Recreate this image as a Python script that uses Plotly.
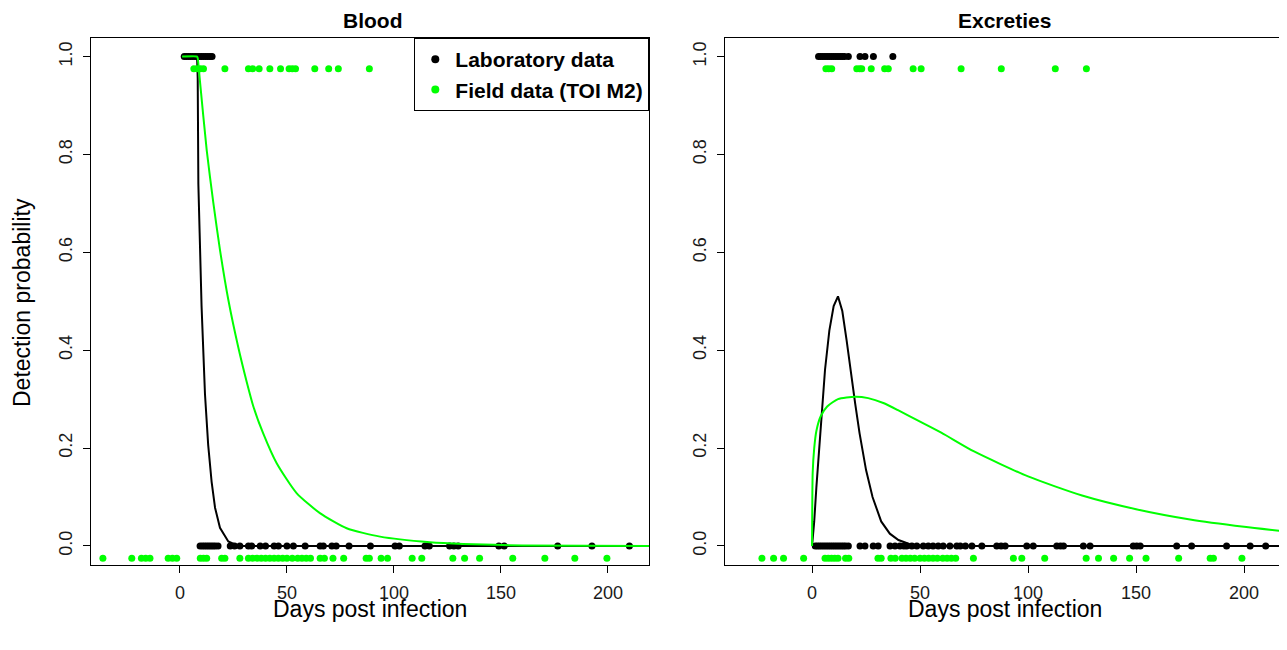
import plotly.graph_objects as go

# ---------------- DATA ----------------
# Blood panel: laboratory observations (days post infection)
blood_lab_pos_days = [2, 3, 4, 5, 6, 7, 8, 9, 10, 11, 12, 13, 14, 15]
blood_lab_neg_days = [9.4, 10.5, 11.5, 12.5, 13.5, 14.5, 15.5, 16.5, 17.8, 23.5, 25.5, 28, 32, 33.5,
                      37.5, 40, 44, 46, 50, 53, 58.5, 65.5, 67, 71, 73, 79, 89, 100.5, 102.5,
                      114.5, 116.5, 126, 128, 130, 149, 151.5, 176.5, 192.5, 210]
# Blood panel: field observations (TOI M2)
blood_field_pos_days = [6.5, 8, 9.5, 11, 21, 32, 34, 37, 42, 47, 51, 52.5, 54, 63, 69.5, 74, 88.5]
blood_field_neg_days = [-36, -22.5, -18, -16, -14, -5.5, -3.5, -1.5, 9.5, 11, 12.5, 19.5, 21, 28, 32,
                        34, 36, 38, 40, 42, 44, 46, 48, 50, 52.5, 55, 57, 59, 61, 65.5, 67.5, 71.5,
                        76.5, 87, 88.5, 94, 97, 108.5, 113, 127.5, 133, 140, 155.5, 170.5, 184.5, 199.5]

# Excreties panel: laboratory observations
excr_lab_pos_days = [3, 4, 5, 6, 7, 8, 9, 10, 11, 12, 13, 14, 15, 16.8, 22.2, 24.5, 28.4, 37.4]
excr_lab_neg_days = [1.5, 2.5, 3.5, 4.5, 5.5, 6.5, 7.5, 8.5, 9.5, 10.5, 11.5, 12.5, 13.5, 14.5, 15.5,
                     16.8, 22.2, 24.5, 28.3, 30.6, 36.1, 38.4, 40.7, 42.5, 43.8, 46.2, 48.5, 51.5,
                     53.8, 56, 58.4, 60.7, 63.8, 67, 68.6, 71, 74, 78.6, 85.5, 87.5, 89.4, 99.4,
                     102.4, 113.3, 115, 116.4, 125.6, 128.7, 148.7, 150.3, 151.9, 168.8, 175.7,
                     191.9, 202.8, 210]
# Excreties panel: field observations
excr_field_pos_days = [6.4, 7.7, 9.1, 20.7, 22, 23, 27.4, 33.6, 35.3, 46.8, 50.5, 69, 87.6, 112.6, 127]
excr_field_neg_days = [-23.2, -17.8, -13.2, -3.9, 6, 7.5, 9, 10.5, 12, 15.5, 17, 30.5, 32, 36.5, 38.5,
                       41.6, 43.5, 45.5, 47.5, 50, 52, 54, 56, 58, 60.5, 62.5, 64.5, 66.5, 74.7,
                       93.2, 97.1, 107.7, 126.9, 132.6, 139.6, 147, 154.6, 169.7, 184.3, 185.8, 199]

# Fitted detection-probability curves
blood_lab_curve_days = [1, 8.0, 8.3, 8.6, 9.2, 9.8, 10.1, 11.7, 13.2, 14.8, 16.4, 18.7, 22.6, 27.2, 220]
blood_lab_curve_p = [1.0, 1.0, 0.956, 0.74, 0.64, 0.55, 0.49, 0.31, 0.206, 0.131, 0.078, 0.037, 0.009, 0.0, 0.0]
blood_field_curve_days = [1, 8.0, 8.3, 9.3, 12.5, 15.6, 18.7, 22.6, 27.2, 31.2, 34.3, 38.9, 45.2, 54.5,
                          65.4, 77.9, 93.5, 116.8, 132.4, 160, 220]
blood_field_curve_p = [1.0, 1.0, 0.997, 0.952, 0.809, 0.701, 0.605, 0.503, 0.407, 0.335, 0.285, 0.230,
                       0.169, 0.108, 0.067, 0.036, 0.019, 0.0076, 0.004, 0.001, 0.0]
excr_lab_curve_days = [0, 1, 2, 4, 6, 8, 10, 12, 14, 16, 18, 20, 22, 25, 28, 32, 36, 40, 45, 50, 220]
excr_lab_curve_p = [0.0, 0.05, 0.12, 0.25, 0.36, 0.44, 0.49, 0.51, 0.48, 0.42, 0.35, 0.29, 0.23, 0.155,
                    0.10, 0.05, 0.025, 0.012, 0.004, 0.0, 0.0]
excr_field_curve_days = [0, 0.3, 1, 2, 4, 7, 12, 20, 26, 33, 40, 50, 60, 75, 100, 125, 150, 175, 200, 220]
excr_field_curve_p = [0.0, 0.15, 0.2, 0.235, 0.265, 0.285, 0.3, 0.305, 0.302, 0.292, 0.277, 0.254, 0.231,
                      0.193, 0.142, 0.103, 0.075, 0.054, 0.039, 0.029]

panel_titles = ["Blood", "Excreties"]
x_title = "Days post infection"
y_title = "Detection probability"
legend_names = ["Laboratory data", "Field data (TOI M2)"]
x_tickvals = [0, 50, 100, 150, 200]
y_tickvals = [0.0, 0.2, 0.4, 0.6, 0.8, 1.0]
y_ticktext = ["0.0", "0.2", "0.4", "0.6", "0.8", "1.0"]

# ---------------- STYLE ----------------
OFF = 8                      # page body margin of the html page
W, H = 1287 - OFF, 650 - OFF
LAB_COL = "#000000"
FIELD_COL = "#00FF00"
FIELD_OFFSET = -0.025  # field points drawn slightly below the lab points
FONT = "Liberation Sans, Arial, sans-serif"
MS = 7
LW = 2

fig = go.Figure()

panels = [
    dict(xa="x", ya="y",
         lab_pos=blood_lab_pos_days, lab_neg=blood_lab_neg_days,
         f_pos=blood_field_pos_days, f_neg=blood_field_neg_days,
         lc=(blood_lab_curve_days, blood_lab_curve_p),
         fc=(blood_field_curve_days, blood_field_curve_p)),
    dict(xa="x2", ya="y2",
         lab_pos=excr_lab_pos_days, lab_neg=excr_lab_neg_days,
         f_pos=excr_field_pos_days, f_neg=excr_field_neg_days,
         lc=(excr_lab_curve_days, excr_lab_curve_p),
         fc=(excr_field_curve_days, excr_field_curve_p)),
]

for p in panels:
    lab_x = p["lab_pos"] + p["lab_neg"]
    lab_y = [1] * len(p["lab_pos"]) + [0] * len(p["lab_neg"])
    f_x = p["f_pos"] + p["f_neg"]
    f_y = [1 + FIELD_OFFSET] * len(p["f_pos"]) + [0 + FIELD_OFFSET] * len(p["f_neg"])
    fig.add_trace(go.Scatter(x=lab_x, y=lab_y, mode="markers", xaxis=p["xa"], yaxis=p["ya"],
                             marker=dict(color=LAB_COL, size=MS), showlegend=False))
    fig.add_trace(go.Scatter(x=p["lc"][0], y=p["lc"][1], mode="lines", xaxis=p["xa"], yaxis=p["ya"],
                             line=dict(color=LAB_COL, width=LW), showlegend=False))
    fig.add_trace(go.Scatter(x=f_x, y=f_y, mode="markers", xaxis=p["xa"], yaxis=p["ya"],
                             marker=dict(color=FIELD_COL, size=MS), showlegend=False))
    fig.add_trace(go.Scatter(x=p["fc"][0], y=p["fc"][1], mode="lines", xaxis=p["xa"], yaxis=p["ya"],
                             line=dict(color=FIELD_COL, width=LW, shape="spline", smoothing=0.6),
                             showlegend=False))

# legend-only entries
for name, col in zip(legend_names, [LAB_COL, FIELD_COL]):
    fig.add_trace(go.Scatter(x=[None], y=[None], mode="markers", name=name, xaxis="x", yaxis="y",
                             marker=dict(color=col, size=8), showlegend=True))

def px_x(px):
    return (px - OFF) / W

def px_y(py):
    return 1 - (py - OFF) / H

ydom = [px_y(565), px_y(38)]
axis_common = dict(showline=True, mirror=True, linecolor="black", linewidth=1, ticks="outside",
                   ticklen=7, tickcolor="black", tickwidth=1, showgrid=False, zeroline=False,
                   automargin=False, ticklabelstandoff=4,
                   tickfont=dict(family=FONT, size=18, color="#1a1a1a"))

fig.update_layout(
    width=W, height=H, autosize=False,
    margin=dict(l=0, r=0, t=0, b=0),
    paper_bgcolor="white", plot_bgcolor="white",
    font=dict(family=FONT, color="black"),
    xaxis=dict(domain=[px_x(90.7), px_x(649.3)], range=[-41.7, 219.3], tickvals=x_tickvals,
               anchor="y", **axis_common),
    yaxis=dict(domain=ydom, range=[-0.039, 1.038], tickvals=y_tickvals, ticktext=y_ticktext,
               tickangle=-90, anchor="x", **axis_common),
    xaxis2=dict(domain=[px_x(725), px_x(1286)], range=[-40.3, 219.4], tickvals=x_tickvals,
                anchor="y2", **axis_common),
    yaxis2=dict(domain=ydom, range=[-0.039, 1.038], tickvals=y_tickvals, ticktext=y_ticktext,
                tickangle=-90, anchor="x2", **axis_common),
    legend=dict(x=px_x(649.3), xanchor="right", y=px_y(38), yanchor="top",
                bgcolor="white", bordercolor="black", borderwidth=1,
                font=dict(family=FONT, size=21, color="black", weight="bold"),
                itemwidth=30, tracegroupgap=0),
    showlegend=True,
)

annotations = [
    dict(text=panel_titles[0], x=px_x(372), y=px_y(20), font=dict(size=21, weight="bold")),
    dict(text=panel_titles[1], x=px_x(1004), y=px_y(20), font=dict(size=21, weight="bold")),
    dict(text=x_title, x=px_x(370), y=px_y(609), font=dict(size=23)),
    dict(text=x_title, x=px_x(1005), y=px_y(609), font=dict(size=23)),
    dict(text=y_title, x=px_x(22), y=px_y(303), font=dict(size=23), textangle=-90),
]
for a in annotations:
    a.update(xref="paper", yref="paper", showarrow=False, xanchor="center", yanchor="middle",
             borderpad=0)
    a["font"] = dict(family=FONT, color="black", **a["font"])
    fig.add_annotation(**a)

fig.write_html("out.html")
